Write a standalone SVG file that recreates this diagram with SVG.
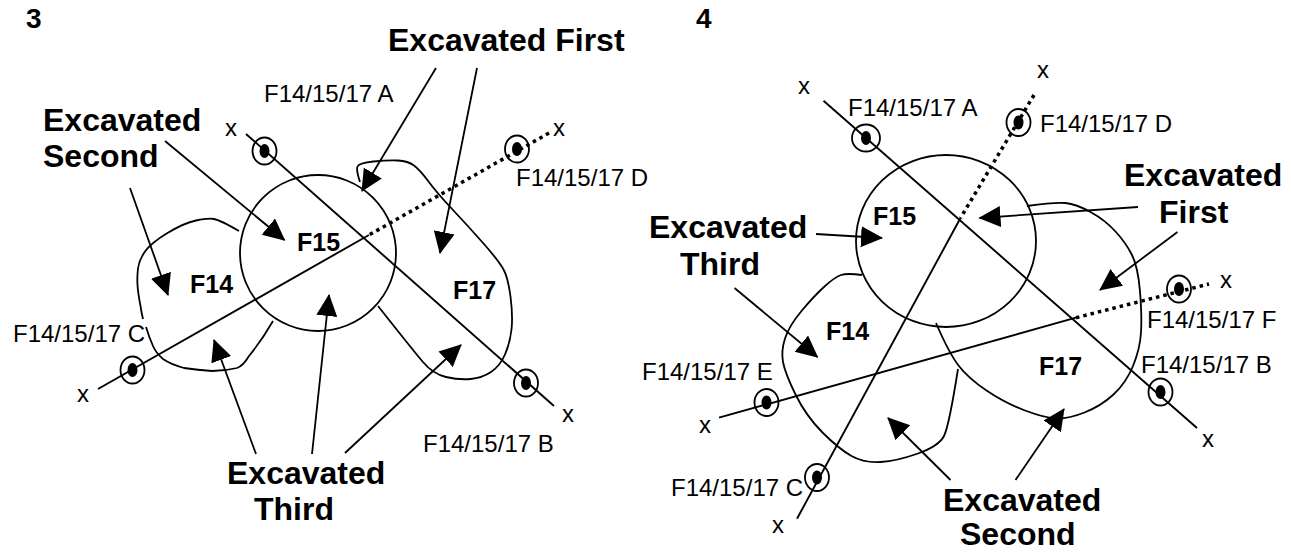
<svg xmlns="http://www.w3.org/2000/svg" width="1291" height="552" viewBox="0 0 1291 552">
<style>
text{font-family:"Liberation Sans",Arial,sans-serif;fill:#000}
.big{font-size:32px;font-weight:700}
.num{font-size:28px;font-weight:700}
.f{font-size:25px;font-weight:700}
.lab{font-size:24px}
.o{fill:none;stroke:#000;stroke-width:1.8}
.s{fill:none;stroke:#000;stroke-width:1.9}
.d{fill:none;stroke:#000;stroke-width:3.5;stroke-dasharray:3.5 4}
.a{fill:none;stroke:#000;stroke-width:1.8;marker-end:url(#h)}
.ring{fill:none;stroke:#000;stroke-width:1.8}
</style>
<defs>
<marker id="h" markerUnits="userSpaceOnUse" markerWidth="24" markerHeight="24" viewBox="0 0 24 24" refX="21" refY="12" orient="auto"><path d="M0 1.5L22 12L0 22.5Z" fill="#000"/></marker>
</defs>
<rect width="1291" height="552" fill="#fff"/>
<g id="panel3">
<text class="num" x="26" y="28">3</text>
<g id="p3-F14"><path class="o" d="M239 231Q220 220 214 219Q208 218 196 220.5Q184 223 167.5 233Q151 243 145 251.5Q139 260 138 268.5Q137 277 137.5 285Q138 293 140.5 306Q141.5 313 143 319M146 327Q149 337 153 346Q156 353 163 359Q170 364 184 368Q198 370 212 371Q225 371 237 368Q243 366 249 356Q262 340 273 321"/><text class="f" x="190" y="293">F14</text></g>
<g id="p3-F15"><circle class="o" cx="318" cy="253" r="78" /><text class="f" x="297" y="251">F15</text></g>
<g id="p3-F17"><path class="o" d="M360 182Q356 170 357.5 166.5Q359 163 373.5 161.5Q388 160 398 160.5Q408 161 414 165.5Q420 170 428.5 181.5Q437 193 453 210Q469 227 483.5 243.5Q498 260 503 268.5Q508 277 510.5 296.5Q513 316 511.5 329.5Q510 343 505 354.5Q500 366 491 372Q482 378 470.5 379Q459 380 446 377Q433 374 422.5 361.5Q412 349 378 306"/><text class="f" x="453" y="299">F17</text></g>
<g id="p3-A"><ellipse class="ring" cx="264.500" cy="151" rx="12" ry="13.500"/><ellipse cx="264.500" cy="151" rx="5" ry="7"/><text class="lab" x="264" y="102">F14/15/17 A</text><text class="lab" x="225" y="136">x</text></g>
<g id="p3-B"><ellipse class="ring" cx="526" cy="383" rx="12" ry="13.500"/><ellipse cx="526" cy="383" rx="5" ry="7"/><text class="lab" x="423" y="452">F14/15/17 B</text><text class="lab" x="562" y="422">x</text></g>
<g id="p3-C"><ellipse class="ring" cx="132.500" cy="370" rx="12" ry="13.500"/><ellipse cx="132.500" cy="370" rx="5" ry="7"/><text class="lab" x="13" y="342">F14/15/17 C</text><text class="lab" x="77" y="402">x</text></g>
<g id="p3-D"><ellipse class="ring" cx="517" cy="149" rx="12" ry="13.500"/><ellipse cx="517" cy="149" rx="5" ry="7"/><text class="lab" x="516" y="186">F14/15/17 D</text><text class="lab" x="553" y="136">x</text></g>
<g id="p3-labels"><text class="big" x="388" y="51">Excavated First</text><text class="big" x="43" y="131">Excavated</text><text class="big" x="43" y="167">Second</text><text class="big" x="227" y="484">Excavated</text><text class="big" x="254" y="520">Third</text></g>
</g>
<g id="panel4">
<text class="num" x="696" y="28">4</text>
<g id="p4-F14"><path class="o" d="M862 275Q847 273 841 275Q835 277 824.5 286.5Q814 296 801.5 311Q789 326 785 338.5Q781 351 783 362Q785 373 795.5 394.5Q806 416 822.5 432.5Q839 449 851.5 456Q864 463 880.5 462Q897 461 918 453.500Q939 446 944 436Q949 426 958 369"/><text class="f" x="826" y="340">F14</text></g>
<g id="p4-F15"><ellipse class="o" cx="946" cy="241" rx="90" ry="86"/><text class="f" x="873" y="225">F15</text></g>
<g id="p4-F17"><path class="o" d="M1027 206Q1055 202 1065.5 203Q1076 204 1090.5 212Q1105 220 1115.500 231.5Q1126 243 1132 255Q1138 267 1140 291.500Q1142 316 1141 332.5Q1140 349 1133 366Q1126 383 1113.500 394.5Q1101 406 1084.5 412.5Q1068 419 1056.500 418.5Q1045 418 1025 410.5Q1005 403 986.500 390.5Q968 378 958.5 365.5Q949 353 936 323"/><text class="f" x="1039" y="375">F17</text></g>
<g id="p4-A"><ellipse class="ring" cx="866" cy="138" rx="14" ry="13.500"/><ellipse cx="866" cy="138" rx="5" ry="7"/><text class="lab" x="848" y="116">F14/15/17 A</text><text class="lab" x="798" y="94">x</text></g>
<g id="p4-B"><ellipse class="ring" cx="1160.500" cy="392" rx="12" ry="13.500"/><ellipse cx="1160.500" cy="392" rx="5" ry="7"/><text class="lab" x="1141" y="373">F14/15/17 B</text><text class="lab" x="1202" y="447">x</text></g>
<g id="p4-C"><ellipse class="ring" cx="817" cy="477.500" rx="12" ry="13.500"/><ellipse cx="817" cy="477.500" rx="5" ry="7"/><text class="lab" x="671" y="496">F14/15/17 C</text><text class="lab" x="772" y="533">x</text></g>
<g id="p4-D"><ellipse class="ring" cx="1018.500" cy="122.500" rx="12" ry="13.500"/><ellipse cx="1018.500" cy="122.500" rx="5" ry="7"/><text class="lab" x="1040" y="132">F14/15/17 D</text><text class="lab" x="1037" y="78">x</text></g>
<g id="p4-E"><ellipse class="ring" cx="766.500" cy="402.500" rx="12" ry="13.500"/><ellipse cx="766.500" cy="402.500" rx="5" ry="7"/><text class="lab" x="642" y="380">F14/15/17 E</text><text class="lab" x="699" y="433">x</text></g>
<g id="p4-F"><ellipse class="ring" cx="1179" cy="289" rx="12" ry="13.500"/><ellipse cx="1179" cy="289" rx="5" ry="7"/><text class="lab" x="1147" y="328">F14/15/17 F</text><text class="lab" x="1220" y="288">x</text></g>
<g id="p4-labels"><text class="big" x="1124" y="186">Excavated</text><text class="big" x="1159" y="223">First</text><text class="big" x="649" y="238">Excavated</text><text class="big" x="680" y="275">Third</text><text class="big" x="943" y="511">Excavated</text><text class="big" x="960" y="545">Second</text></g>
</g>
<g id="connectors">
<path class="s" d="M246 134L554 406"/>
<path class="d" d="M549 133L369 235"/>
<path class="s" d="M369 235L98 389"/>
<path class="a" d="M436 68L362 191"/>
<path class="a" d="M477 68L440 253"/>
<path class="a" d="M165 141L284.500 240"/>
<path class="a" d="M130 188L168 295"/>
<path class="a" d="M256 454L214 340"/>
<path class="a" d="M312 454L329 295"/>
<path class="a" d="M345 453L461 345"/>
<path class="s" d="M823.500 100.700L1197 428"/>
<path class="d" d="M1034 95L960.500 218"/>
<path class="s" d="M960.500 218L797 518.700"/>
<path class="s" d="M719 417.700L1076 317.700"/>
<path class="d" d="M1076 317.700L1209 284"/>
<path class="a" d="M1138 207L979.500 218"/>
<path class="a" d="M1177.500 232L1100 290"/>
<path class="a" d="M816 234L882 238"/>
<path class="a" d="M734.500 288L817.500 357"/>
<path class="a" d="M950.500 480L888 418"/>
<path class="a" d="M1015.500 480L1064 409"/>
</g>
</svg>
